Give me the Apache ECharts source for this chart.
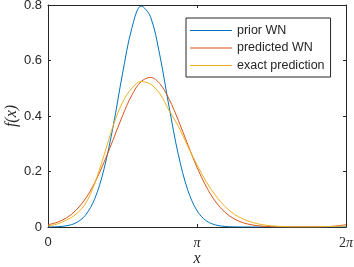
<!DOCTYPE html>
<html><head><meta charset="utf-8">
<script src="https://cdn.jsdelivr.net/npm/echarts@6/dist/echarts.min.js"></script>
<style>html,body{margin:0;padding:0;background:#fff}#c{width:354px;height:267px}</style>
</head><body><div id="c"></div>
<script>
// x positions in units of pi
const xPi = [0,0.0625,0.125,0.1875,0.25,0.3125,0.375,0.4375,0.5,0.5625,0.625,0.6875,0.75,0.8125,0.875,0.9375,1,1.0625,1.125,1.1875,1.25,1.3125,1.375,1.4375,1.5,1.5625,1.625,1.6875,1.75,1.8125,1.875,1.9375,2];
const priorWN = [0.0003,0.0012,0.0045,0.0149,0.0417,0.100,0.207,0.364,0.552,0.716,0.796,0.758,0.620,0.433,0.260,0.134,0.0588,0.0223,0.0072,0.0020,0.0005,0.0001,0,0,0,0,0,0,0,0,0,0.0001,0.0003];
const predictedWN = [0.0083,0.0171,0.0332,0.060,0.101,0.158,0.232,0.315,0.401,0.475,0.524,0.539,0.517,0.461,0.384,0.298,0.215,0.145,0.091,0.053,0.029,0.0149,0.007,0.0031,0.0013,0.0005,0.0002,0.0002,0.0002,0.0006,0.0015,0.0037,0.0083];
const exactPrediction = [0.004,0.011,0.025,0.046,0.083,0.155,0.257,0.365,0.449,0.500,0.524,0.515,0.481,0.420,0.363,0.292,0.224,0.163,0.113,0.074,0.046,0.028,0.016,0.0084,0.0043,0.002,0.001,0.0007,0.0007,0.001,0.0015,0.0025,0.004];
const seriesNames = ['prior WN','predicted WN','exact prediction'];
const seriesColors = ['#0072BD','#D95319','#EDB120'];
const xTickLabels = {0:'{s|0}', 1:'{p|π}', 2:'{n|2}{p|π}'};

const axisColor = '#262626';
const serif = '"Liberation Serif","DejaVu Serif",serif';
const sans = '"Liberation Sans",Arial,sans-serif';
const chart = echarts.init(document.getElementById('c'), null, {renderer:'canvas'});
const pairs = ys => xPi.map((x,i)=>[x, ys[i]]);
const allData = [priorWN, predictedWN, exactPrediction];

const common = {
  axisLine:{show:true, onZero:false, lineStyle:{color:axisColor, width:1}},
  axisTick:{show:true, inside:true, length:3, lineStyle:{color:axisColor}},
  splitLine:{show:false}
};

chart.setOption({
  animation:false,
  backgroundColor:'#fff',
  grid:{left:48, right:8, top:5, bottom:40, containLabel:false, outerBoundsMode:'none'},
  legend:{
    data:seriesNames, orient:'vertical', left:186, top:18,
    icon:'rect', itemWidth:42, itemHeight:1, itemGap:4.5, padding:[6,6,5,4],
    borderColor:axisColor, borderWidth:1, backgroundColor:'#fff',
    textStyle:{fontSize:12.5, lineHeight:13, color:axisColor, fontFamily:sans}
  },
  xAxis:[
    Object.assign({type:'value', min:0, max:2, interval:1, position:'bottom',
      axisLabel:{margin:9, color:axisColor, formatter:v=>xTickLabels[Math.round(v)] || '',
        rich:{s:{fontFamily:sans, fontSize:13, color:axisColor},
              p:{fontFamily:serif, fontStyle:'italic', fontSize:14, color:axisColor},
              n:{fontFamily:serif, fontSize:14, color:axisColor}}},
      name:'x', nameLocation:'middle', nameGap:24, nameMoveOverlap:false,
      nameTextStyle:{fontFamily:serif, fontStyle:'italic', fontSize:16, color:axisColor}}, common),
    Object.assign({type:'value', min:0, max:2, interval:1, position:'top', axisLabel:{show:false}}, common)
  ],
  yAxis:[
    Object.assign({type:'value', min:0, max:0.8, interval:0.2, position:'left',
      axisLabel:{margin:6, color:axisColor, fontFamily:sans, fontSize:13, formatter:v=> v===0?'0':v.toFixed(1)},
      name:'f(x)', nameLocation:'middle', nameGap:28, nameRotate:90, nameMoveOverlap:false,
      nameTextStyle:{fontFamily:serif, fontStyle:'italic', fontSize:16, color:axisColor}}, common),
    Object.assign({type:'value', min:0, max:0.8, interval:0.2, position:'right', axisLabel:{show:false}}, common)
  ],
  series: seriesNames.map((n,i)=>({
    name:n, type:'line', data:pairs(allData[i]), symbol:'none', smooth:0.35,
    xAxisIndex:0, yAxisIndex:0, clip:true,
    lineStyle:{width:1, color:seriesColors[i]}, itemStyle:{color:seriesColors[i]}
  }))
});
</script></body></html>
